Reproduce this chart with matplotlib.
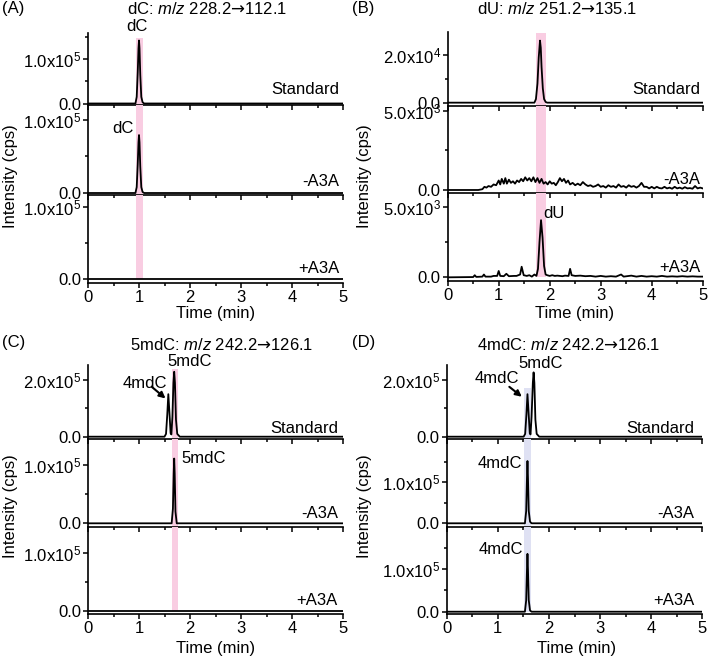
import matplotlib
matplotlib.use("Agg")
import matplotlib.pyplot as plt
from matplotlib.ticker import FixedLocator

plt.rcParams["font.family"] = ["Liberation Sans", "DejaVu Sans"]
plt.rcParams["mathtext.fontset"] = "custom"
plt.rcParams["mathtext.rm"] = "Liberation Sans"
plt.rcParams["mathtext.it"] = "Liberation Sans:italic"
plt.rcParams["mathtext.sf"] = "DejaVu Sans"
plt.rcParams["font.size"] = 12

W, H = 709, 660

# ---- data (time in min, intensity in cps) ----
# (A) dC
A_std_t = [0, 0.93, 0.955, 0.975, 0.99, 1.0, 1.01, 1.025, 1.045, 1.07, 1.1, 5]
A_std_v = [0, 0, 1.5e4, 7.0e4, 1.25e5, 1.43e5, 1.25e5, 6.5e4, 1.5e4, 3e3, 0, 0]
A_neg_t = [0, 0.93, 0.955, 0.975, 0.99, 1.0, 1.01, 1.025, 1.045, 1.07, 1.1, 5]
A_neg_v = [0, 0, 8e3, 3.9e4, 6.9e4, 7.9e4, 6.9e4, 3.6e4, 8e3, 1.5e3, 0, 0]
A_pos_t = [0, 5]
A_pos_v = [0, 0]

# (B) dU
B_std_t = [0, 1.70, 1.73, 1.76, 1.785, 1.81, 1.825, 1.84, 1.865, 1.89, 1.92, 1.95, 5]
B_std_v = [0, 0, 1.5e3, 8e3, 1.9e4, 2.6e4, 2.3e4, 1.5e4, 6e3, 1.5e3, 300, 0, 0]
B_neg_pts = [
    (0, 0), (0.6, 0), (0.68, 0.05), (0.72, 0.2), (0.76, 0.15), (0.8, 0.25), (0.85, 0.2),
    (0.9, 0.35), (0.95, 0.3), (1.0, 0.6), (1.03, 0.35), (1.06, 0.7), (1.1, 0.4), (1.13, 0.75),
    (1.16, 0.4), (1.2, 0.65), (1.24, 0.45), (1.28, 0.55), (1.32, 0.4), (1.36, 0.6), (1.4, 0.5),
    (1.44, 0.7), (1.48, 0.55), (1.52, 0.8), (1.56, 0.6), (1.6, 0.75), (1.64, 0.55), (1.68, 0.8),
    (1.72, 0.5), (1.76, 0.75), (1.8, 0.45), (1.84, 0.7), (1.88, 0.4), (1.92, 0.5), (1.96, 0.35),
    (2.0, 0.55), (2.04, 0.4), (2.08, 0.45), (2.12, 0.3), (2.16, 0.5), (2.2, 0.75), (2.24, 0.55),
    (2.28, 0.7), (2.32, 0.45), (2.36, 0.6), (2.4, 0.35), (2.45, 0.45), (2.5, 0.3), (2.55, 0.4),
    (2.6, 0.3), (2.65, 0.5), (2.7, 0.35), (2.75, 0.25), (2.8, 0.3), (2.85, 0.2), (2.9, 0.25),
    (2.95, 0.35), (3.0, 0.2), (3.05, 0.25), (3.1, 0.15), (3.15, 0.3), (3.2, 0.2), (3.25, 0.25),
    (3.3, 0.15), (3.35, 0.35), (3.4, 0.2), (3.45, 0.25), (3.5, 0.15), (3.55, 0.3), (3.6, 0.2),
    (3.65, 0.25), (3.7, 0.15), (3.75, 0.25), (3.8, 0.45), (3.85, 0.2), (3.9, 0.2), (3.95, 0.1),
    (4.0, 0.2), (4.05, 0.1), (4.1, 0.2), (4.15, 0.12), (4.2, 0.1), (4.25, 0.2), (4.3, 0.1),
    (4.35, 0.15), (4.4, 0.08), (4.45, 0.2), (4.5, 0.1), (4.55, 0.15), (4.6, 0.08), (4.65, 0.18),
    (4.7, 0.1), (4.75, 0.12), (4.8, 0.08), (4.85, 0.25), (4.9, 0.1), (4.95, 0.15), (5.0, 0.1),
]
B_pos_pts = [
    (0, 0), (0.5, 0.02), (0.53, 0.15), (0.56, 0.03), (0.68, 0.05), (0.71, 0.2), (0.74, 0.05),
    (0.85, 0.05), (0.9, 0.1), (0.97, 0.1), (1.0, 0.45), (1.03, 0.1), (1.1, 0.08), (1.15, 0.25),
    (1.2, 0.08), (1.3, 0.1), (1.35, 0.1), (1.42, 0.2), (1.45, 0.75), (1.49, 0.15), (1.55, 0.1),
    (1.6, 0.15), (1.65, 0.05), (1.7, 0.2), (1.74, 0.1), (1.77, 0.6), (1.8, 2.5), (1.83, 4.05),
    (1.86, 2.8), (1.89, 0.8), (1.92, 0.2), (1.95, 0.15), (2.0, 0.1), (2.05, 0.15), (2.1, 0.1),
    (2.15, 0.12), (2.2, 0.1), (2.25, 0.08), (2.3, 0.12), (2.37, 0.1), (2.4, 0.6), (2.43, 0.15),
    (2.5, 0.1), (2.6, 0.12), (2.7, 0.08), (2.8, 0.1), (2.9, 0.05), (3.0, 0.1), (3.1, 0.05),
    (3.2, 0.08), (3.3, 0.05), (3.4, 0.2), (3.45, 0.05), (3.6, 0.12), (3.7, 0.05), (3.8, 0.1),
    (3.9, 0.05), (4.0, 0.08), (4.1, 0.05), (4.2, 0.1), (4.3, 0.05), (4.4, 0.07), (4.5, 0.05),
    (4.6, 0.08), (4.7, 0.05), (4.8, 0.07), (4.9, 0.05), (5.0, 0.05),
]
B_neg_t = [p[0] for p in B_neg_pts]
B_neg_v = [p[1] * 1e3 for p in B_neg_pts]
B_pos_t = [p[0] for p in B_pos_pts]
B_pos_v = [p[1] * 1e3 for p in B_pos_pts]

# (C) 5mdC
C_std_t = [0, 1.50, 1.53, 1.555, 1.575, 1.595, 1.62, 1.635, 1.655, 1.675, 1.69, 1.705, 1.725, 1.75, 1.8, 5]
C_std_v = [0, 0, 1e4, 8e4, 1.5e5, 9e4, 1.2e4, 8e3, 7e4, 1.9e5, 2.29e5, 1.9e5, 6e4, 1e4, 0, 0]
C_neg_t = [0, 1.64, 1.665, 1.68, 1.69, 1.70, 1.715, 1.74, 5]
C_neg_v = [0, 0, 2.5e4, 8.5e4, 1.11e5, 8.5e4, 2e4, 0, 0]
C_pos_t = [0, 5]
C_pos_v = [0, 0]

# (D) 4mdC
D_std_t = [0, 1.505, 1.535, 1.56, 1.58, 1.60, 1.625, 1.64, 1.66, 1.685, 1.70, 1.715, 1.735, 1.76, 1.81, 5]
D_std_v = [0, 0, 1e4, 8e4, 1.5e5, 9e4, 1.2e4, 8e3, 7e4, 1.9e5, 2.27e5, 1.9e5, 6e4, 1e4, 0, 0]
D_neg_t = [0, 1.53, 1.555, 1.57, 1.58, 1.59, 1.605, 1.63, 1.66, 5]
D_neg_v = [0, 0, 3e4, 1.1e5, 1.52e5, 1.1e5, 3e4, 4e3, 0, 0]
D_pos_t = [0, 1.53, 1.555, 1.57, 1.58, 1.59, 1.605, 1.63, 1.66, 5]
D_pos_v = [0, 0, 2.7e4, 9.8e4, 1.36e5, 9.8e4, 2.7e4, 3e3, 0, 0]

sample_names = ["Standard", "-A3A", "+A3A"]
x_major = [0, 1, 2, 3, 4, 5]
x_minor = [0.5, 1.5, 2.5, 3.5, 4.5]


def fig_x(x):
    return x / W


def fig_y(y):
    return 1 - y / H


def draw_panel(fig, left, right, edges, traces, ylims, yticks, ylabels, yminor,
               name_pos, span, span_top, span_color):
    axes = []
    for i in range(3):
        top, bottom = edges[i], edges[i + 1]
        ax = fig.add_axes([fig_x(left), fig_y(bottom), (right - left) / W, (bottom - top) / H])
        ax.patch.set_visible(False)
        t, v = traces[i]
        ax.plot(t, v, color="black", lw=1.3, zorder=3)
        ax.set_xlim(0, 5)
        y0, y1 = ylims[i]
        ax.set_ylim(y0, y1)
        frac0 = (0 - y0) / (y1 - y0)
        if i == 0:
            ax.axvspan(span[0], span[1], ymin=0, ymax=(span_top - y0) / (y1 - y0),
                       color=span_color, lw=0, zorder=1)
        elif i == 1:
            ax.axvspan(span[0], span[1], color=span_color, lw=0, zorder=1)
        else:
            ax.axvspan(span[0], span[1], ymin=frac0, ymax=1, color=span_color, lw=0, zorder=1)
        for s in ["top", "right"]:
            ax.spines[s].set_visible(False)
        for s in ["left", "bottom"]:
            ax.spines[s].set_linewidth(1.2)
        ax.xaxis.set_major_locator(FixedLocator(x_major))
        ax.xaxis.set_minor_locator(FixedLocator(x_minor))
        ax.yaxis.set_major_locator(FixedLocator(yticks[i]))
        ax.yaxis.set_minor_locator(FixedLocator(yminor[i]))
        ax.set_yticklabels(ylabels[i])
        ax.tick_params(which="major", direction="out", length=3.5, width=1.1, pad=1.5)
        ax.tick_params(which="minor", direction="out", length=2, width=1.1)
        ax.tick_params(axis="x", labelbottom=(i == 2))
        ax.text(name_pos[0], name_pos[1][i], sample_names[i], transform=ax.transAxes,
                ha="right", va="center")
        axes.append(ax)
    return axes


fig = plt.figure(figsize=(W / 100, H / 100), dpi=100)

pink = "#f9cde2"
lavender = "#dfe1f3"

# panel A
axA = draw_panel(
    fig, 88, 343, [33, 105, 195.5, 283],
    [(A_std_t, A_std_v), (A_neg_t, A_neg_v), (A_pos_t, A_pos_v)],
    [(-3.4e3, 1.6e5), (-3.4e3, 1.2e5), (-5.5e3, 1.155e5)],
    [[0, 1e5], [0, 1e5], [0, 1e5]],
    [["0.0", "1.0x10$^5$"]] * 3,
    [[0.5e5, 1.5e5], [0.5e5], [0.5e5]],
    (0.985, [0.21, 0.15, 0.17]), (0.935, 1.08), 1.49e5, pink)
axA[0].text(0.95, 1.74e5, "dC", ha="center", va="center")
axA[1].text(0.69, 0.886e5, "dC", ha="center", va="center")

# panel B
axB = draw_panel(
    fig, 447.7, 702.7, [32, 106, 193, 281],
    [(B_std_t, B_std_v), (B_neg_t, B_neg_v), (B_pos_t, B_pos_v)],
    [(-1.4e3, 2.96e4), (-190, 5.3e3), (-260, 5.97e3)],
    [[0, 2e4], [0, 5e3], [0, 5e3]],
    [["0.0", "2.0x10$^4$"], ["0.0", "5.0x10$^3$"], ["0.0", "5.0x10$^3$"]],
    [[1e4, 3e4], [2.5e3], [2.5e3]],
    (0.99, [0.22, 0.16, 0.15]), (1.725, 1.92), 2.91e4, pink)
axB[2].text(2.08, 4.53e3, "dU", ha="center", va="center")

# panel C
axC = draw_panel(
    fig, 88, 343, [365, 439.3, 526.7, 614],
    [(C_std_t, C_std_v), (C_neg_t, C_neg_v), (C_pos_t, C_pos_v)],
    [(-9.2e3, 2.53e5), (-5.8e3, 1.44e5), (-5.1e3, 1.446e5)],
    [[0, 2e5], [0, 1e5], [0, 1e5]],
    [["0.0", "2.0x10$^5$"], ["0.0", "1.0x10$^5$"], ["0.0", "1.0x10$^5$"]],
    [[1e5], [0.5e5], [0.5e5]],
    (0.98, [0.15, 0.15, 0.16]), (1.64, 1.76), 2.39e5, pink)
axC[0].text(2.0, 2.65e5, "5mdC", ha="center", va="center")
axC[0].text(1.12, 1.88e5, "4mdC", ha="center", va="center")
axC[0].annotate("", xy=(1.52, 1.35e5), xytext=(1.25, 1.76e5),
                arrowprops=dict(arrowstyle="-|>", color="black", lw=1.5, mutation_scale=9,
                                shrinkA=0, shrinkB=0))
axC[1].text(2.27, 1.11e5, "5mdC", ha="center", va="center")

# panel D
axD = draw_panel(
    fig, 446.7, 702.3, [365, 439.3, 526.7, 614],
    [(D_std_t, D_std_v), (D_neg_t, D_neg_v), (D_pos_t, D_pos_v)],
    [(-9.2e3, 2.53e5), (-8.3e3, 2.05e5), (-5.4e3, 2.0e5)],
    [[0, 2e5], [0, 1e5], [0, 1e5]],
    [["0.0", "2.0x10$^5$"], ["0.0", "1.0x10$^5$"], ["0.0", "1.0x10$^5$"]],
    [[1e5], [0.5e5, 1.5e5], [0.5e5, 1.5e5]],
    (0.97, [0.15, 0.15, 0.16]), (1.51, 1.65), 1.71e5, lavender)
axD[0].text(1.83, 2.59e5, "5mdC", ha="center", va="center")
axD[0].text(0.98, 2.06e5, "4mdC", ha="center", va="center")
axD[0].annotate("", xy=(1.47, 1.41e5), xytext=(1.225, 1.76e5),
                arrowprops=dict(arrowstyle="-|>", color="black", lw=1.5, mutation_scale=9,
                                shrinkA=0, shrinkB=0))
axD[1].text(1.04, 1.46e5, "4mdC", ha="center", va="center")
axD[2].text(1.05, 1.455e5, "4mdC", ha="center", va="center")

# figure level texts (pixel positions)
arrow = "$\\mathsf{\u2192}$"
titles = [
    (206.7, 9, "dC: $\\it{m/z}$ 228.2" + arrow + "112.1"),
    (556.7, 9, "dU: $\\it{m/z}$ 251.2" + arrow + "135.1"),
    (222, 345, "5mdC: $\\it{m/z}$ 242.2" + arrow + "126.1"),
    (568.3, 345, "4mdC: $\\it{m/z}$ 242.2" + arrow + "126.1"),
]
for x, y, s in titles:
    fig.text(fig_x(x), fig_y(y), s, ha="center", va="center")

for x, y, s in [(2, 8.5, "(A)"), (352, 8.5, "(B)"), (2, 343, "(C)"), (352, 343, "(D)")]:
    fig.text(fig_x(x), fig_y(y), s, ha="left", va="center")

for x, y in [(11, 176), (365, 176), (11, 506), (365, 506)]:
    fig.text(fig_x(x), fig_y(y), "Intensity (cps)", rotation=90, ha="center", va="center")

for x, y in [(215.8, 313.3), (575, 313.3), (216, 648), (576.7, 649)]:
    fig.text(fig_x(x), fig_y(y), "Time (min)", ha="center", va="center")

fig.savefig("out.png", dpi=100)
